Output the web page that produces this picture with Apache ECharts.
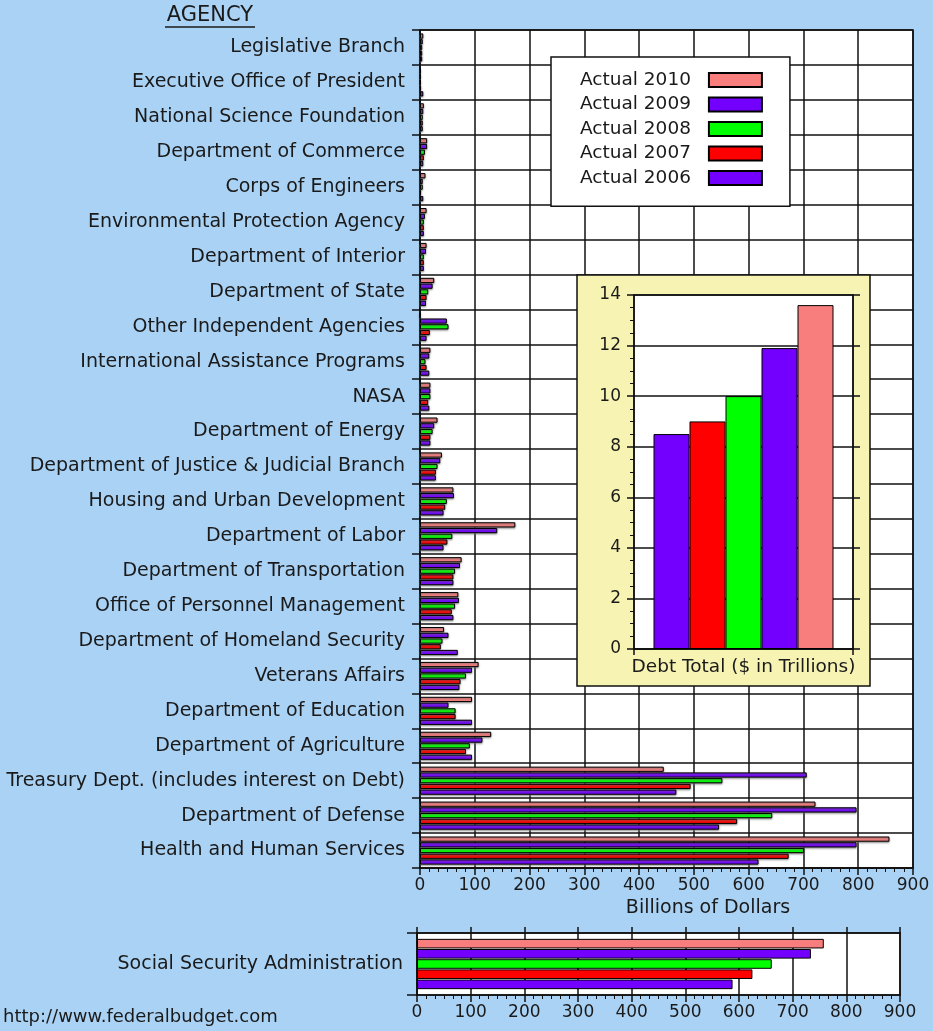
<!DOCTYPE html>
<html>
<head>
<meta charset="utf-8">
<script src="https://cdn.jsdelivr.net/npm/echarts@6/dist/echarts.min.js"></script>
<style>
html,body{margin:0;padding:0;background:#aad2f5;}
#chart{width:933px;height:1031px;}
</style>
</head>
<body>
<div id="chart"></div>
<script>
// ---------- DATA ----------
const agencies = [
  'Legislative Branch',
  'Executive Office of President',
  'National Science Foundation',
  'Department of Commerce',
  'Corps of Engineers',
  'Environmental Protection Agency',
  'Department of Interior',
  'Department of State',
  'Other Independent Agencies',
  'International Assistance Programs',
  'NASA',
  'Department of Energy',
  'Department of Justice & Judicial Branch',
  'Housing and Urban Development',
  'Department of Labor',
  'Department of Transportation',
  'Office of Personnel Management',
  'Department of Homeland Security',
  'Veterans Affairs',
  'Department of Education',
  'Department of Agriculture',
  'Treasury Dept. (includes interest on Debt)',
  'Department of Defense',
  'Health and Human Services'
];
const actual2010 = [6, 1, 7, 13, 10, 12, 12, 26, 0, 19, 19, 32, 40, 61, 174, 76, 70, 44, 107, 95, 130, 445, 722, 857];
const actual2009 = [5, 1, 6, 13, 5, 9, 11, 23, 49, 17, 19, 26, 37, 62, 141, 73, 71, 52, 95, 52, 114, 706, 797, 797];
const actual2008 = [4, 1, 5, 9, 5, 7, 7, 15, 52, 10, 19, 23, 32, 49, 59, 64, 64, 41, 84, 65, 91, 552, 643, 701];
const actual2007 = [4, 2, 5, 7, 2, 7, 7, 12, 18, 12, 15, 19, 29, 46, 50, 61, 58, 38, 74, 65, 84, 494, 579, 673];
const actual2006 = [4, 6, 5, 6, 6, 7, 7, 11, 12, 17, 17, 19, 29, 43, 43, 61, 61, 69, 72, 95, 95, 468, 546, 618];

const ssaCategory = ['Social Security Administration'];
const ssa2010 = [758];
const ssa2009 = [734];
const ssa2008 = [661];
const ssa2007 = [625];
const ssa2006 = [588];

const debtCategory = ['Debt Total ($ in Trillions)'];
const debt2006 = [8.5];
const debt2007 = [9.0];
const debt2008 = [10.0];
const debt2009 = [11.9];
const debt2010 = [13.6];

const seriesNames = ['Actual 2010', 'Actual 2009', 'Actual 2008', 'Actual 2007', 'Actual 2006'];

// ---------- STYLE ----------
const colors = {
  'Actual 2010': '#f87e7e',
  'Actual 2009': '#7300ff',
  'Actual 2008': '#00ff00',
  'Actual 2007': '#ff0000',
  'Actual 2006': '#7300ff'
};
const FONT = 'DejaVu Sans';
const TXT = '#1a1a1a';
const LINE = '#111';

const mainData = {
  'Actual 2010': actual2010, 'Actual 2009': actual2009, 'Actual 2008': actual2008,
  'Actual 2007': actual2007, 'Actual 2006': actual2006
};
const ssaData = {
  'Actual 2010': ssa2010, 'Actual 2009': ssa2009, 'Actual 2008': ssa2008,
  'Actual 2007': ssa2007, 'Actual 2006': ssa2006
};
const debtOrder = ['Actual 2006', 'Actual 2007', 'Actual 2008', 'Actual 2009', 'Actual 2010'];
const debtData = {
  'Actual 2006': debt2006, 'Actual 2007': debt2007, 'Actual 2008': debt2008,
  'Actual 2009': debt2009, 'Actual 2010': debt2010
};

const series = [];
seriesNames.forEach(n => {
  series.push({
    name: n, type: 'bar', xAxisIndex: 0, yAxisIndex: 0,
    data: mainData[n], barWidth: 5.2, barGap: '10%',
    itemStyle: { color: colors[n], borderColor: '#000', borderWidth: 1,
      shadowColor: 'rgba(110,110,110,0.85)', shadowBlur: 2, shadowOffsetY: 1 },
    z: 3
  });
});
seriesNames.forEach(n => {
  series.push({
    name: n, type: 'bar', xAxisIndex: 1, yAxisIndex: 1,
    data: ssaData[n], barWidth: 9.6, barGap: '6%',
    itemStyle: { color: colors[n], borderColor: '#000', borderWidth: 1 },
    z: 3
  });
});
debtOrder.forEach(n => {
  series.push({
    name: n, type: 'bar', xAxisIndex: 3, yAxisIndex: 2,
    data: debtData[n], barWidth: 36, barGap: '0%',
    itemStyle: { color: colors[n], borderColor: '#000', borderWidth: 1 },
    z: 23
  });
});

const valueAxisCommon = {
  type: 'value', min: 0, max: 900, interval: 100,
  axisLine: { show: true, lineStyle: { color: LINE, width: 1.5 } },
  axisTick: { show: true, inside: false, length: 7, lineStyle: { color: LINE, width: 1.5 } },
  minorTick: { show: true, splitNumber: 6, length: 4, lineStyle: { color: LINE, width: 1 } },
  axisLabel: { color: TXT, fontFamily: FONT, fontSize: 17, margin: 9 },
  splitLine: { show: true, lineStyle: { color: LINE, width: 1.5 } }
};

const option = {
  backgroundColor: '#aad2f5',
  animation: false,
  grid: [
    { left: 420, top: 30, width: 493, height: 838, show: true, backgroundColor: '#fff', borderColor: LINE, borderWidth: 1.5, containLabel: false },
    { left: 417, top: 933, width: 483, height: 62, show: true, backgroundColor: '#fff', borderColor: LINE, borderWidth: 1.5, containLabel: false },
    { left: 634, top: 295, width: 219, height: 354, show: true, backgroundColor: '#fff', borderColor: LINE, borderWidth: 1.5, containLabel: false, z: 21 }
  ],
  legend: {
    orient: 'vertical', left: 551, top: 57, align: 'right',
    data: seriesNames,
    icon: 'rect', itemWidth: 53, itemHeight: 14, itemGap: 5.5,
    padding: [13.6, 27, 18.6, 29],
    backgroundColor: '#fff', borderColor: LINE, borderWidth: 1.5,
    selectedMode: false,
    textStyle: { fontFamily: FONT, fontSize: 18.5, color: TXT, lineHeight: 14, padding: [0, 13, 0, 0] }
  },
  xAxis: [
    Object.assign({}, valueAxisCommon, { gridIndex: 0 }),
    Object.assign({}, valueAxisCommon, { gridIndex: 1 }),
    { type: 'value', gridIndex: 1, position: 'top', min: 0, max: 900, interval: 100,
      axisLine: { show: true, lineStyle: { color: LINE, width: 1.5 } },
      axisTick: { show: true, inside: false, length: 6, lineStyle: { color: LINE, width: 1.5 } },
      axisLabel: { show: false }, splitLine: { show: false } },
    { type: 'category', gridIndex: 2, data: debtCategory, z: 22,
      axisLine: { show: true, lineStyle: { color: LINE, width: 1.5 } },
      axisTick: { show: true, length: 6, lineStyle: { color: LINE, width: 1.5 } },
      axisLabel: { color: TXT, fontFamily: FONT, fontSize: 18.5, margin: 9 },
      splitLine: { show: false } }
  ],
  yAxis: [
    { type: 'category', gridIndex: 0, data: agencies, inverse: true,
      axisLine: { show: true, lineStyle: { color: LINE, width: 1.5 } },
      axisTick: { show: true, length: 8, lineStyle: { color: LINE, width: 1.5 } },
      axisLabel: { color: TXT, fontFamily: FONT, fontSize: 19, margin: 15 },
      splitLine: { show: true, lineStyle: { color: LINE, width: 1.5 } } },
    { type: 'category', gridIndex: 1, data: ssaCategory,
      axisLine: { show: true, lineStyle: { color: LINE, width: 1.5 } },
      axisTick: { show: true, length: 10, lineStyle: { color: LINE, width: 1.5 } },
      axisLabel: { color: TXT, fontFamily: FONT, fontSize: 19, margin: 14 },
      splitLine: { show: false } },
    { type: 'value', gridIndex: 2, min: 0, max: 14, interval: 2, z: 22,
      axisLine: { show: true, lineStyle: { color: LINE, width: 1.5 } },
      axisTick: { show: true, length: 7, lineStyle: { color: LINE, width: 1.5 } },
      minorTick: { show: true, splitNumber: 4, length: 4, lineStyle: { color: LINE, width: 1 } },
      axisLabel: { color: TXT, fontFamily: FONT, fontSize: 17, margin: 13 },
      splitLine: { show: true, lineStyle: { color: LINE, width: 1.5 } } },
    { type: 'value', gridIndex: 2, position: 'right', min: 0, max: 14, interval: 2, z: 22,
      axisLine: { show: true, lineStyle: { color: LINE, width: 1.5 } },
      axisTick: { show: true, length: 7, lineStyle: { color: LINE, width: 1.5 } },
      axisLabel: { show: false }, splitLine: { show: false } }
  ],
  graphic: [
    { type: 'rect', z: 20, shape: { x: 577, y: 275, width: 293, height: 411 },
      style: { fill: '#f6f3b3', stroke: LINE, lineWidth: 1.5 } },
    { type: 'text', z: 30, x: 210, y: 16,
      style: { text: 'AGENCY', fill: TXT, font: '21px "DejaVu Sans"', align: 'center', verticalAlign: 'middle' } },
    { type: 'line', z: 30, shape: { x1: 165, y1: 27, x2: 255, y2: 27 }, style: { stroke: TXT, lineWidth: 1.5 } },
    { type: 'text', z: 30, x: 708, y: 908,
      style: { text: 'Billions of Dollars', fill: TXT, font: '19px "DejaVu Sans"', align: 'center', verticalAlign: 'middle' } },
    { type: 'text', z: 30, x: 3, y: 1017,
      style: { text: 'http://www.federalbudget.com', fill: TXT, font: '18px "DejaVu Sans"', align: 'left', verticalAlign: 'middle' } }
  ],
  series: series
};

const chart = echarts.init(document.getElementById('chart'), null, { renderer: 'canvas' });
chart.setOption(option);
</script>
</body>
</html>
